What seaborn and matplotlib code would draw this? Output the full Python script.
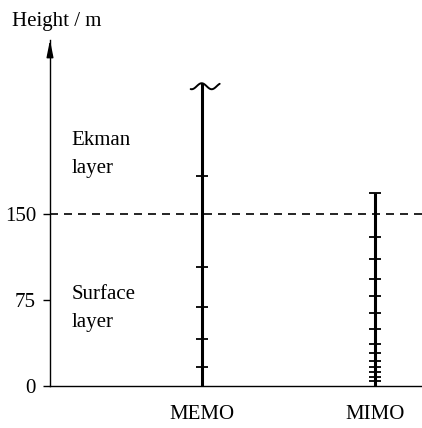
import numpy as np
import pandas as pd
import seaborn as sns
import matplotlib
matplotlib.use("Agg")
import matplotlib.pyplot as plt

# measurement masts and their instrument levels (m)
masts = ["MEMO", "MIMO"]
mast_tops = [264, 168.5]
memo_levels = [17, 41, 69, 104, 183]
mimo_levels = [4, 8, 12.5, 17, 22, 28.5, 36.5, 50, 64, 78.5, 93, 111, 130, 168.5]
y_ticks = [0, 75, 150]
layer_top = 150

sns.set_theme(style="white")
plt.rcParams["font.family"] = ["Liberation Serif", "DejaVu Serif"]
plt.rcParams["text.color"] = "black"
FS = 15

levels = pd.DataFrame({
    "mast": ["MEMO"] * len(memo_levels) + ["MIMO"] * len(mimo_levels),
    "height": memo_levels + mimo_levels,
})
levels["pos"] = levels["mast"].map({m: i for i, m in enumerate(masts)})

fig = plt.figure(figsize=(4.22, 4.28), dpi=100)
ax = fig.add_axes([50 / 422, 42 / 428, 372 / 422, 346 / 428])

# masts
ax.vlines(range(len(masts)), 0, mast_tops, color="black", lw=2.2, zorder=3)

# instrument levels
sns.scatterplot(data=levels, x="pos", y="height", marker="_", s=70,
                color="black", linewidth=1.3, ax=ax, zorder=4, legend=False)

# break symbol on top of the MEMO mast
px_x = 1 / 173.3
px_y = 1 / 1.1467
dx = np.linspace(-11, 18, 60)
ax.plot(dx * px_x, mast_tops[0] + 3 * (np.cos(2 * np.pi * dx / 20) - 1) * px_y,
        color="black", lw=1.4, zorder=5, clip_on=False)

# boundary between surface and Ekman layer
ax.axhline(layer_top, color="black", lw=1.2, ls=(0, (4.8, 3.6)), zorder=2)

ax.text(-0.75, 210, "Ekman", fontsize=FS, va="baseline", color="black")
ax.text(-0.75, 185.5, "layer", fontsize=FS, va="baseline", color="black")
ax.text(-0.75, 76, "Surface", fontsize=FS, va="baseline", color="black")
ax.text(-0.75, 51.5, "layer", fontsize=FS, va="baseline", color="black")

ax.set_xlim(-0.875, 1.271)
ax.set_ylim(0, 301.7)
ax.set_xticks(range(len(masts)))
ax.set_xticklabels(masts, fontsize=FS, color="black")
ax.set_yticks(y_ticks)
ax.set_yticklabels([str(t) for t in y_ticks], fontsize=FS, color="black")
ax.tick_params(axis="x", length=0, pad=13.5)
ax.tick_params(axis="y", length=5, width=1.0, direction="out", pad=5.0,
               left=True, colors="black")
ax.set_xlabel("")
ax.set_ylabel("")

for side in ["top", "right"]:
    ax.spines[side].set_visible(False)
for side in ["left", "bottom"]:
    ax.spines[side].set_color("black")
    ax.spines[side].set_linewidth(1.0)

# arrow on the height axis
ax.annotate("", xy=(0, 1), xytext=(0, 0.95), xycoords="axes fraction",
            arrowprops=dict(arrowstyle="-|>,head_length=0.85,head_width=0.17",
                            color="black", lw=1.0, shrinkA=0, shrinkB=0))

fig.text(11.7 / 422, 1 - 26 / 428, "Height / m", fontsize=FS, va="baseline",
         color="black")

fig.savefig("out.png", dpi=100)
